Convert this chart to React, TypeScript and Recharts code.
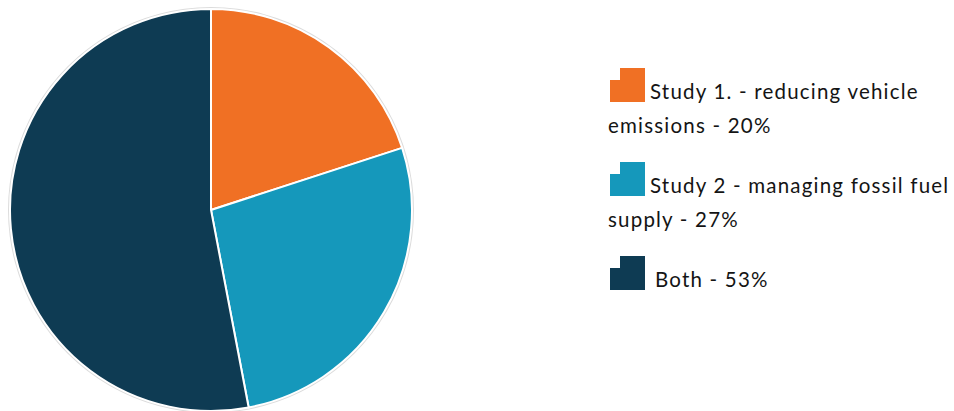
import { PieChart, Pie, Cell, Legend } from "recharts";

const labels = [
  "Study 1. - reducing vehicle emissions - 20%",
  "Study 2 - managing fossil fuel supply - 27%",
  "Both - 53%",
];
const values = [20, 27, 53];
const colors = ["#F07024", "#1598BB", "#0E3B53"];

const data = labels.map((name, i) => ({ name, value: values[i] }));
const ring = [{ name: "ring", value: 1 }];

const StepIcon = ({ color }: { color: string }) => (
  <svg
    width={36}
    height={35}
    style={{ position: "absolute", left: 2, top: -6 }}
  >
    <path d="M10 0 H35 V34 H0 V12 H10 Z" fill={color} />
  </svg>
);

const renderLegend = () => (
  <div
    style={{
      fontFamily: "Lato, sans-serif",
      fontSize: 20.5,
      letterSpacing: 1.2,
      color: "#141414",
    }}
  >
    {data.map((d, i) => (
      <div
        key={d.name}
        style={{
          position: "relative",
          lineHeight: "34px",
          textIndent: i === 2 ? 47 : 42,
          marginBottom: 26,
        }}
      >
        <StepIcon color={colors[i]} />
        {d.name}
      </div>
    ))}
  </div>
);

export default function App() {
  return (
    <div style={{ position: "absolute", left: 0, top: 0, background: "#fff" }}>
      <PieChart
        width={954}
        height={411}
        margin={{ top: 0, right: 0, bottom: 0, left: 0 }}
      >
        <Pie
          data={ring}
          dataKey="value"
          cx={211}
          cy={210}
          outerRadius={203}
          startAngle={90}
          endAngle={-270}
          fill="#dcdcdc"
          stroke="none"
          isAnimationActive={false}
        />
        <Pie
          data={data}
          dataKey="value"
          cx={211}
          cy={210}
          outerRadius={201}
          startAngle={90}
          endAngle={-270}
          stroke="#fff"
          strokeWidth={2}
          isAnimationActive={false}
        >
          {data.map((d, i) => (
            <Cell key={d.name} fill={colors[i]} />
          ))}
        </Pie>
        <Legend
          layout="vertical"
          align="right"
          verticalAlign="middle"
          content={renderLegend}
          wrapperStyle={{ top: 74, left: 608, width: 346 }}
        />
      </PieChart>
    </div>
  );
}
